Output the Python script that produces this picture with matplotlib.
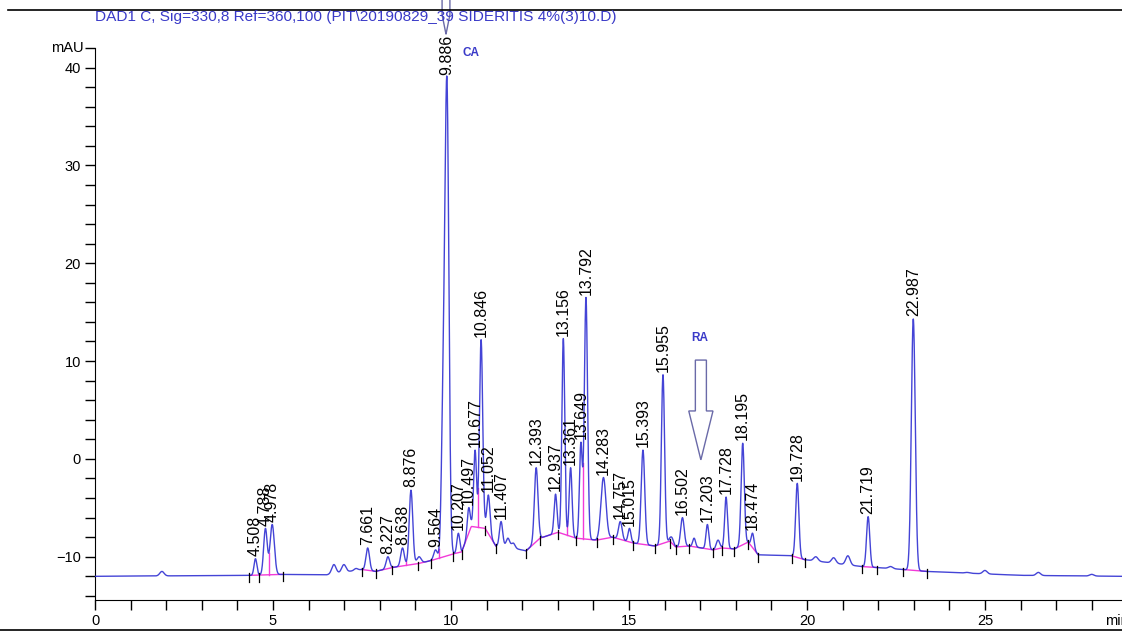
import numpy as np
import matplotlib.pyplot as plt
from matplotlib.patches import FancyArrow
from matplotlib.ticker import MultipleLocator, FixedLocator
from matplotlib.lines import Line2D

plt.rcParams['font.family'] = ['Liberation Sans', 'DejaVu Sans']

# labelled peaks: retention time (min), apex (mAU), sigma (min)
peak_rt = [4.508, 4.788, 4.978, 7.661, 8.227, 8.638, 8.876, 9.564, 9.886,
           10.207, 10.497, 10.677, 10.846, 11.052, 11.407, 12.393, 12.937,
           13.156, 13.361, 13.649, 13.792, 14.283, 14.757, 15.015, 15.393,
           15.955, 16.502, 17.203, 17.728, 18.195, 18.474, 19.728, 21.719,
           22.987]
peak_top = [-10.2, -7.1, -6.7, -9.1, -10.0, -9.1, -3.2, -9.3, 39.0,
            -7.6, -5.0, 0.9, 12.2, -3.7, -6.4, -0.9, -3.6,
            12.3, -0.9, 1.7, 16.5, -1.9, -6.4, -7.1, 0.9,
            8.6, -6.0, -6.7, -3.9, 1.6, -7.6, -2.5, -5.9,
            14.3]
peak_sd = [0.04, 0.05, 0.06, 0.05, 0.05, 0.05, 0.05, 0.05, 0.055,
           0.04, 0.04, 0.04, 0.045, 0.045, 0.045, 0.05, 0.04,
           0.04, 0.04, 0.04, 0.045, 0.07, 0.05, 0.04, 0.05,
           0.045, 0.05, 0.04, 0.04, 0.045, 0.04, 0.045, 0.045,
           0.055]

# small unlabelled bumps and the CA shoulder
minor_rt = [1.88, 6.71, 6.99, 7.33, 9.10, 9.78, 11.60, 11.75, 12.70, 16.20,
            16.83, 17.50, 19.20, 20.25, 20.75, 21.15, 22.35, 24.50, 25.00,
            26.50, 28.00]
minor_top = [-11.5, -10.8, -10.8, -11.2, -10.0, 11.5, -8.1, -8.6, -7.9, -8.0,
             -8.1, -8.3, -10.0, -10.0, -10.1, -9.9, -11.0, -11.6, -11.4,
             -11.6, -11.8]
minor_sd = [0.06, 0.06, 0.06, 0.05, 0.06, 0.05, 0.05, 0.05, 0.06, 0.05,
            0.04, 0.05, 0.06, 0.06, 0.06, 0.06, 0.06, 0.06, 0.06,
            0.06, 0.06]

# baseline drift
drift_rt = [0, 4.34, 5.29, 6.5, 7.49, 7.88, 8.35, 9.08, 9.43, 10.07, 10.30,
            10.57, 10.96, 11.26, 11.6, 12.11, 12.5, 13.01, 13.51, 14.09,
            14.54, 15.12, 15.73, 16.15, 16.31, 16.69, 17.37, 17.6, 17.96,
            18.35, 18.63, 19.57, 19.94, 21.54, 21.96, 22.69, 23.36, 26.0,
            28.85]
drift_val = [-12.0, -11.9, -11.8, -11.85, -11.3, -11.5, -11.1, -10.7, -10.4,
             -9.7, -9.5, -6.9, -7.1, -8.9, -9.0, -9.4, -8.1, -7.5, -8.1, -8.3,
             -8.0, -8.6, -8.9, -8.4, -9.0, -8.9, -9.3, -9.1, -9.2, -8.5, -9.8,
             -9.9, -10.3, -11.0, -11.1, -11.3, -11.5, -11.9, -12.0]

# integration events (tick marks), grouped by baseline segment
integ_groups = [
    [4.34, 4.62, 5.29],
    [7.49, 7.88, 8.35, 9.08, 9.43, 10.07, 10.30, 10.96, 11.26],
    [12.11, 12.50, 13.01, 13.51, 14.09, 14.54, 15.12, 15.73, 16.15, 16.31,
     16.69, 17.37, 17.60, 17.96, 18.35, 18.63],
    [19.57, 19.94],
    [21.54, 21.96],
    [22.69, 23.36],
]
drop_rt = [4.88, 8.74, 9.66, 10.76, 13.25, 13.52, 13.71]

title = "DAD1 C, Sig=330,8 Ref=360,100 (PIT\\20190829_39 SIDERITIS 4%(3)10.D)"

BLUE = "#3030d2"
MAGENTA = "#f23ad8"
LABEL_BLUE = "#3a3ac8"


def drift(t):
    return np.interp(t, drift_rt, drift_val)


# solve peak heights so the trace passes through the read apex values
all_rt = np.array(peak_rt + minor_rt)
all_top = np.array(peak_top + minor_top)
all_sd = np.array(peak_sd + minor_sd)
A = np.exp(-(all_rt[:, None] - all_rt[None, :]) ** 2 / (2 * all_sd[None, :] ** 2))
heights = np.clip(np.linalg.solve(A, all_top - drift(all_rt)), 0, None)


def trace(t):
    t = np.atleast_1d(t)
    g = np.exp(-(t[:, None] - all_rt[None, :]) ** 2 / (2 * all_sd[None, :] ** 2))
    return drift(t) + g @ heights


fig = plt.figure(figsize=(11.22, 6.35), dpi=100)
ax = fig.add_axes([95 / 1122, 35 / 635, 1 - 95 / 1122, 600 / 635])
ax.set_xlim(0, 28.85)
ax.set_ylim(-14.42, 46.9)

t = np.arange(0, 28.85, 0.004)
ax.plot(t, trace(t), color=BLUE, lw=1.0, alpha=0.9, zorder=3)

# integration baselines and event ticks
for grp in integ_groups:
    tt = np.linspace(grp[0], grp[-1], 200)
    ax.plot(tt, drift(tt), color=MAGENTA, lw=1.0, zorder=2)
    for e in grp:
        b = drift(e)
        ax.plot([e, e], [b + 0.2, b - 0.7], color="black", lw=0.9, zorder=4)
for d in drop_rt:
    ax.plot([d, d], [drift(d), trace(d)[0]], color=MAGENTA, lw=1.0, zorder=2)

# peak labels
for rt, top in zip(peak_rt, peak_top):
    ax.annotate(f"{rt:.3f}", (rt, top), xytext=(0, 2), textcoords="offset points",
                rotation=90, ha="center", va="bottom", fontsize=11.5, zorder=5)

# compound annotations
ax.text(10.56, 41.5, "CA", color=LABEL_BLUE, fontsize=8.5, weight="bold",
        ha="center", va="center")
ax.text(17.0, 12.4, "RA", color=LABEL_BLUE, fontsize=8.5, weight="bold",
        ha="center", va="center")
ax.add_patch(FancyArrow(17.02, 10.1, 0, -10.2, width=0.31, head_width=0.68,
                        head_length=5.0, length_includes_head=True, fill=False,
                        ec="#6a6aa8", lw=1.0, zorder=6))
ax.add_patch(FancyArrow(9.86, 48.0, 0, -4.6, width=0.22, head_width=0.22,
                        head_length=2.0, length_includes_head=True, fill=False,
                        ec="#6a6aa8", lw=1.0, zorder=6))

# axes styling
for s in ["top", "right"]:
    ax.spines[s].set_visible(False)
ax.spines["left"].set_bounds(-14.42, 42)
ax.xaxis.set_major_locator(MultipleLocator(5))
ax.xaxis.set_minor_locator(MultipleLocator(1))
ax.yaxis.set_major_locator(FixedLocator([-10, 0, 10, 20, 30, 40]))
ax.yaxis.set_minor_locator(FixedLocator(np.arange(-14, 43, 2)))
ax.tick_params(which="both", direction="out", length=7, width=1, labelsize=10.5)
ax.tick_params(axis="y", pad=3)
ax.tick_params(axis="x", pad=3)
ax.annotate("mAU", xy=(0, 42), xycoords=("axes fraction", "data"),
            xytext=(-8, 0), textcoords="offset points", ha="right", va="center",
            fontsize=10.5)

fig.text(95 / 1122, 1 - 17 / 635, title, color=LABEL_BLUE, fontsize=11.1,
         va="center", ha="left")
fig.text(1105 / 1122, 1 - 621 / 635, "min", fontsize=10.5, va="center", ha="left")
fig.add_artist(Line2D([8 / 1122, 1], [1 - 10 / 635] * 2, color="black", lw=1.2))
fig.add_artist(Line2D([0, 1], [1 - 630 / 635] * 2, color="black", lw=1.2))

fig.savefig("out.png", dpi=100)
